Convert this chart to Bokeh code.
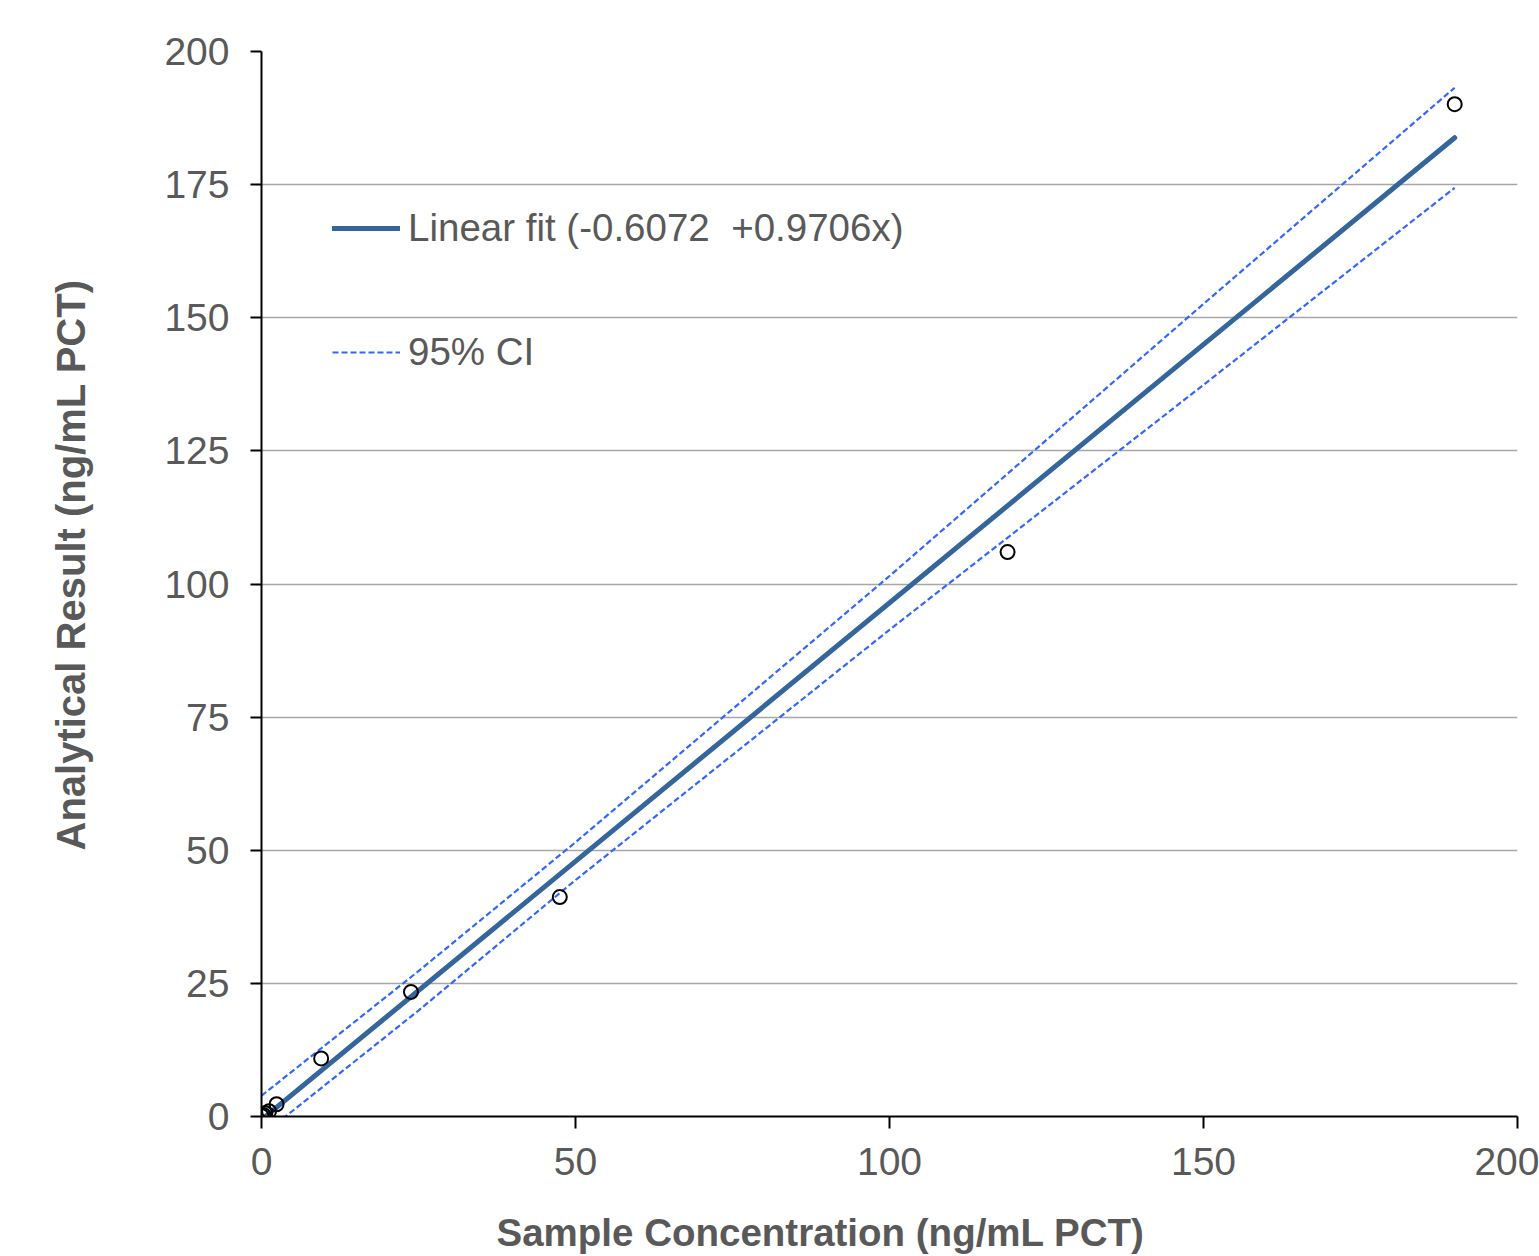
from bokeh.plotting import figure
from bokeh.models import Range1d, FixedTicker, Legend, LegendItem, Title, LinearAxis
from bokeh.embed import file_html
from bokeh.resources import INLINE

# ---- data ----
sample_conc = [0, 0.3, 0.6, 1.2, 2.4, 9.5, 23.8, 47.5, 118.8, 190]
analytical = [0.1, 0.3, 0.6, 1.0, 2.3, 10.9, 23.4, 41.2, 106.0, 190.1]

fit_x = [0, 190]
fit_y = [-0.61, 183.8]

ci_x = [0, 25, 50, 100, 150, 190]
ci_upper = [3.9, 27.3, 51.5, 101.5, 152.6, 193.2]
ci_lower = [-3.6, 19.9, 44.4, 91.4, 137.4, 174.4]

x_ticks = [0, 50, 100, 150, 200]
y_ticks = [0, 25, 50, 75, 100, 125, 150, 175, 200]

fit_label = "Linear fit (-0.6072  +0.9706x)"
ci_label = "95% CI"
x_title = "Sample Concentration (ng/mL PCT)"
y_title = "Analytical Result (ng/mL PCT)"

FONT = "Liberation Sans"
GREY = "#595959"

p = figure(width=1539, height=1256, output_backend="svg", toolbar_location=None,
           x_range=Range1d(0, 200), y_range=Range1d(0, 200),
           min_border_left=261, min_border_top=51, min_border_right=22,
           min_border_bottom=140, outline_line_color=None)

# axes
for ax in (p.xaxis[0], p.yaxis[0]):
    ax.axis_line_color = "black"
    ax.axis_line_width = 2
    ax.major_tick_line_color = "black"
    ax.major_tick_line_width = 2
    ax.major_tick_in = 0
    ax.minor_tick_line_color = None
    ax.major_label_text_font = FONT
    ax.major_label_text_font_size = "39px"
    ax.major_label_text_color = GREY
p.xaxis.ticker = FixedTicker(ticks=x_ticks)
p.yaxis.ticker = FixedTicker(ticks=y_ticks)
p.xaxis.major_tick_out = 12
p.yaxis.major_tick_out = 11
p.xaxis.major_label_standoff = 19
p.yaxis.major_label_standoff = 21

p.xgrid.grid_line_color = None
p.ygrid.grid_line_color = "#A6A6A6"
p.ygrid.grid_line_width = 1.5

# data glyphs
upper_r = p.line(ci_x, ci_upper, line_color="#3366FF", line_width=2.2, line_dash="6 3")
lower_r = p.line(ci_x, ci_lower, line_color="#3366FF", line_width=2.2, line_dash="6 3")
fit_r = p.line(fit_x, fit_y, line_color="#34659B", line_width=5, line_cap="round")
p.scatter(sample_conc, analytical, marker="circle", size=14, line_color="black",
          line_width=2, fill_alpha=0)

legend = Legend(items=[LegendItem(label=fit_label, renderers=[fit_r]),
                       LegendItem(label=ci_label, renderers=[upper_r])],
                location=(71, 741), border_line_color=None, background_fill_alpha=0,
                padding=0, margin=0, spacing=78, glyph_width=68, glyph_height=46,
                label_height=46, label_standoff=8, label_text_font=FONT,
                label_text_font_size="38.5px", label_text_color=GREY)
p.add_layout(legend)


def spacer(size):
    # a blank axis (white tick, empty label) that only reserves room before the title
    return LinearAxis(ticker=FixedTicker(ticks=[100]), axis_line_color=None,
                      major_tick_out=size, major_tick_in=0, minor_tick_out=0,
                      minor_tick_in=0, major_tick_line_color="#ffffff",
                      major_tick_line_width=1, minor_tick_line_color=None,
                      major_label_overrides={100: ""}, major_label_standoff=0,
                      axis_label_standoff=0)


p.add_layout(spacer(33), "below")
p.add_layout(spacer(69), "left")

xt = Title(text=x_title, align="left", offset=235, vertical_align="top", standoff=0,
           text_font=FONT, text_font_size="38.5px", text_font_style="bold", text_color=GREY)
p.add_layout(xt, "below")
yt = Title(text=y_title, align="left", offset=266, vertical_align="bottom", standoff=0,
           text_font=FONT, text_font_size="40px", text_font_style="bold", text_color=GREY)
p.add_layout(yt, "left")

open("out.html", "w").write(file_html(p, INLINE))
